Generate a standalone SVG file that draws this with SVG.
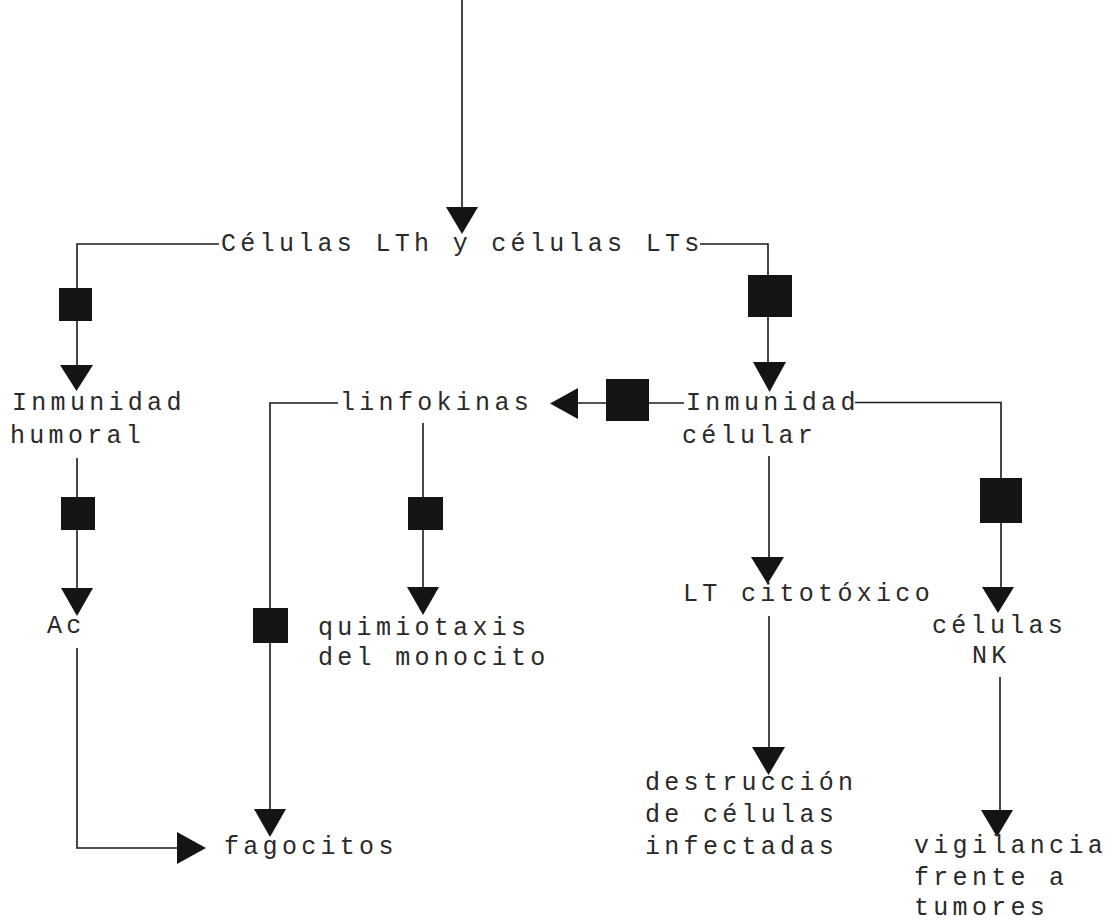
<svg xmlns="http://www.w3.org/2000/svg" width="1117" height="922" viewBox="0 0 1117 922">
<style>
.lbl{font-family:"Liberation Mono","DejaVu Sans Mono",monospace;font-size:25px;letter-spacing:4.3px;fill:#2a2a2a}
.ln{stroke:#1a1a1a;stroke-width:1.6;fill:none}
.blk{fill:#141414}
</style>
<rect width="1117" height="922" fill="#ffffff"/>
<g id="connectors">
  <!-- top entry -->
  <line class="ln" x1="462" y1="0" x2="462" y2="210"/>
  <polygon class="blk" points="446,207 478,207 462,234"/>
  <!-- main to left -->
  <polyline class="ln" points="219,244 77,244 77,368"/>
  <rect class="blk" x="59" y="288" width="33" height="33"/>
  <polygon class="blk" points="60,365 93,365 76.5,391"/>
  <!-- main to right -->
  <polyline class="ln" points="700,244 768,244 768,365"/>
  <rect class="blk" x="748" y="275" width="44" height="42"/>
  <polygon class="blk" points="753,362 786,362 769.5,392"/>
  <!-- humoral to Ac -->
  <line class="ln" x1="77" y1="458" x2="77" y2="590"/>
  <rect class="blk" x="61" y="497" width="34" height="33"/>
  <polygon class="blk" points="61,588 93,588 77,616"/>
  <!-- Ac to fagocitos -->
  <polyline class="ln" points="77,648 77,848 180,848"/>
  <polygon class="blk" points="177,832 177,864 206,848"/>
  <!-- linfokinas to fagocitos -->
  <polyline class="ln" points="338,403 270,403 270,812"/>
  <rect class="blk" x="253" y="608" width="35" height="35"/>
  <polygon class="blk" points="254,809 286,809 270,837"/>
  <!-- linfokinas to quimiotaxis -->
  <line class="ln" x1="423" y1="423" x2="423" y2="590"/>
  <rect class="blk" x="408" y="497" width="35" height="33"/>
  <polygon class="blk" points="407,587 439,587 423,615"/>
  <!-- celular to linfokinas -->
  <line class="ln" x1="684" y1="403" x2="575" y2="403"/>
  <rect class="blk" x="606" y="379" width="43" height="42"/>
  <polygon class="blk" points="550,403.5 578,388 578,419"/>
  <!-- celular to NK -->
  <polyline class="ln" points="855,402.5 1001,402.5 1001,590"/>
  <rect class="blk" x="980" y="478" width="42" height="45"/>
  <polygon class="blk" points="982,587 1014,587 998,613"/>
  <!-- celular to LT citotoxico -->
  <line class="ln" x1="769" y1="456" x2="769" y2="560"/>
  <polygon class="blk" points="751,557 784,557 767.5,584"/>
  <!-- LT citotoxico to destruccion -->
  <line class="ln" x1="769" y1="616" x2="769" y2="750"/>
  <polygon class="blk" points="752,747 785,747 768.5,775"/>
  <!-- NK to vigilancia -->
  <line class="ln" x1="1000" y1="677" x2="1000" y2="813"/>
  <polygon class="blk" points="981,810 1013,810 997,837"/>
</g>
<g id="node-celulas-lth-lts"><text class="lbl" x="221" y="251">Células LTh y células LTs</text></g>
<g id="node-inmunidad-humoral"><text class="lbl" x="12" y="410">Inmunidad</text><text class="lbl" x="10" y="443">humoral</text></g>
<g id="node-linfokinas"><text class="lbl" x="340" y="410">linfokinas</text></g>
<g id="node-inmunidad-celular"><text class="lbl" x="686" y="410">Inmunidad</text><text class="lbl" x="682" y="443">célular</text></g>
<g id="node-ac"><text class="lbl" x="47" y="633">Ac</text></g>
<g id="node-quimiotaxis"><text class="lbl" x="318" y="635">quimiotaxis</text><text class="lbl" x="318" y="665">del monocito</text></g>
<g id="node-lt-citotoxico"><text class="lbl" x="683" y="601">LT citotóxico</text></g>
<g id="node-celulas-nk"><text class="lbl" x="932" y="633">células</text><text class="lbl" x="972" y="663">NK</text></g>
<g id="node-fagocitos"><text class="lbl" x="224" y="854">fagocitos</text></g>
<g id="node-destruccion"><text class="lbl" x="645" y="790">destrucción</text><text class="lbl" x="645" y="822">de células</text><text class="lbl" x="645" y="854">infectadas</text></g>
<g id="node-vigilancia"><text class="lbl" x="914" y="853">vigilancia</text><text class="lbl" x="914" y="885">frente a</text><text class="lbl" x="914" y="915">tumores</text></g>
</svg>
